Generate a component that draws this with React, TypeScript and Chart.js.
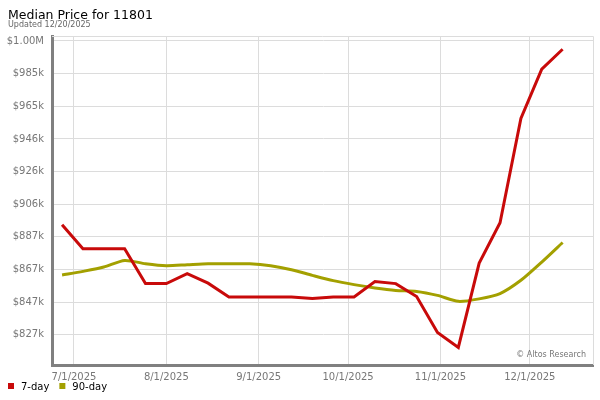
import React, { useEffect, useRef } from "react";
import { Chart, registerables } from "chart.js";

Chart.register(...registerables);

const titleText = "Median Price for 11801";
const subtitleText = "Updated 12/20/2025";
const watermarkText = "\u00A9 Altos Research";

const origin = "7/1/2025";
const weekDates = [
  "6/27/2025", "7/4/2025", "7/11/2025", "7/18/2025", "7/25/2025",
  "8/1/2025", "8/8/2025", "8/15/2025", "8/22/2025", "8/29/2025",
  "9/5/2025", "9/12/2025", "9/19/2025", "9/26/2025", "10/3/2025",
  "10/10/2025", "10/17/2025", "10/24/2025", "10/31/2025", "11/7/2025",
  "11/14/2025", "11/21/2025", "11/28/2025", "12/5/2025", "12/12/2025",
];

const sevenDay = [
  893800, 879300, 879300, 879300, 858300,
  858300, 864300, 858600, 850300, 850300,
  850300, 850300, 849400, 850300, 850300,
  859500, 858300, 850500, 828800, 819800,
  870700, 895000, 957900, 987700, 999700,
];

const ninetyDay = [
  863500, 865700, 868300, 872300, 870300,
  869100, 869700, 870300, 870300, 870300,
  869100, 866700, 863300, 860100, 857700,
  855700, 854200, 853600, 851200, 847600,
  849100, 852300, 860300, 871300, 883100,
];

const xTickDates = ["7/1/2025", "8/1/2025", "9/1/2025", "10/1/2025", "11/1/2025", "12/1/2025"];

const yTickValues = [827400, 847100, 866800, 886500, 906200, 925900, 945600, 965300, 985000, 1004700];
const yTickLabels = ["$827k", "$847k", "$867k", "$887k", "$906k", "$926k", "$946k", "$965k", "$985k", "$1.00M"];

const seriesNames = ["7-day", "90-day"];
const seriesColors = ["#c80a0a", "#a3a000"];

function dayOffset(s: string): number {
  const [m, d, y] = s.split("/").map(Number);
  const [om, od, oy] = origin.split("/").map(Number);
  return (Date.UTC(y, m - 1, d) - Date.UTC(oy, om - 1, od)) / 86400000;
}

const FONT = "'DejaVu Sans', Verdana, sans-serif";

const decorPlugin = {
  id: "decor",
  beforeDatasetsDraw(chart: any) {
    const { ctx, chartArea } = chart;
    ctx.save();
    ctx.strokeStyle = "#dcdcdc";
    ctx.lineWidth = 1;
    ctx.beginPath();
    ctx.moveTo(chartArea.left, Math.round(chartArea.top) + 0.5);
    ctx.lineTo(chartArea.right + 0.5, Math.round(chartArea.top) + 0.5);
    ctx.lineTo(chartArea.right + 0.5, chartArea.bottom);
    ctx.stroke();
    ctx.restore();
  },
  afterDraw(chart: any) {
    const { ctx, chartArea } = chart;
    ctx.save();
    ctx.textAlign = "left";
    ctx.textBaseline = "alphabetic";
    ctx.fillStyle = "#000";
    ctx.font = `12.5px ${FONT}`;
    ctx.fillText(titleText, 8, 18.5);
    ctx.fillStyle = "#666";
    ctx.font = `8px ${FONT}`;
    ctx.fillText(subtitleText, 8, 27);

    // watermark
    ctx.fillStyle = "#777";
    ctx.font = `8px ${FONT}`;
    ctx.textAlign = "right";
    ctx.fillText(watermarkText, 586, chartArea.bottom - 8);

    // legend
    ctx.textAlign = "left";
    ctx.font = `10px ${FONT}`;
    let x = 8;
    seriesNames.forEach((name, i) => {
      ctx.fillStyle = seriesColors[i];
      ctx.fillRect(x, 383, 6, 6);
      ctx.fillStyle = "#000";
      ctx.fillText(name, x + 13, 389.5);
      x += 13 + ctx.measureText(name).width + 10;
    });
    ctx.restore();
  },
};

export default function App() {
  const ref = useRef<HTMLCanvasElement | null>(null);
  useEffect(() => {
    if (!ref.current) return;
    const xs = weekDates.map(dayOffset);
    const xTicks = xTickDates.map(dayOffset);
    const chart = new Chart(ref.current, {
      type: "line",
      data: {
        datasets: [
          {
            label: seriesNames[0],
            data: xs.map((x, i) => ({ x, y: sevenDay[i] })),
            borderColor: seriesColors[0],
            backgroundColor: seriesColors[0],
            borderWidth: 3,
            pointRadius: 0,
            tension: 0,
            borderJoinStyle: "miter",
          },
          {
            label: seriesNames[1],
            data: xs.map((x, i) => ({ x, y: ninetyDay[i] })),
            borderColor: seriesColors[1],
            backgroundColor: seriesColors[1],
            borderWidth: 3,
            pointRadius: 0,
            tension: 0.25,
          },
        ],
      },
      options: {
        animation: false,
        responsive: false,
        maintainAspectRatio: false,
        layout: { padding: { top: 36, right: 7, left: 0, bottom: 0 } },
        plugins: {
          legend: { display: false },
          title: { display: false },
          tooltip: { enabled: false },
        },
        scales: {
          x: {
            type: "linear",
            min: -7.38,
            max: 174.2,
            afterBuildTicks: (scale: any) => {
              scale.ticks = xTicks.map((v) => ({ value: v }));
            },
            afterFit: (scale: any) => {
              scale.height = 35;
            },
            ticks: {
              autoSkip: false,
              maxRotation: 0,
              padding: 6,
              color: "#777",
              font: { family: FONT, size: 10 },
              callback: (_v: any, i: number) => xTickDates[i],
            },
            grid: { color: "#dcdcdc", lineWidth: 1, drawTicks: false },
            border: { color: "#808080", width: 3 },
          },
          y: {
            type: "linear",
            min: 809200,
            max: 1007700,
            afterBuildTicks: (scale: any) => {
              scale.ticks = yTickValues.map((v) => ({ value: v }));
            },
            afterFit: (scale: any) => {
              scale.width = 52;
            },
            ticks: {
              autoSkip: false,
              padding: 8,
              color: "#777",
              font: { family: FONT, size: 10 },
              callback: (_v: any, i: number) => yTickLabels[i],
            },
            grid: { color: "#dcdcdc", lineWidth: 1, drawTicks: false },
            border: { color: "#808080", width: 3 },
          },
        },
      },
      plugins: [decorPlugin],
    });
    return () => chart.destroy();
  }, []);
  return (
    <div style={{ position: "fixed", left: 0, top: 0, width: 600, height: 400, background: "#fff" }}>
      <canvas ref={ref} width={600} height={400} style={{ display: "block", width: 600, height: 400 }} />
    </div>
  );
}
